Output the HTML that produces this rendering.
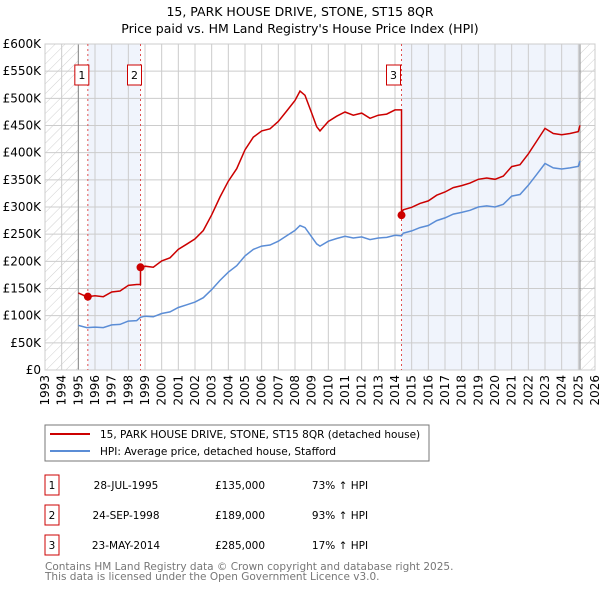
<!DOCTYPE html>
<html><head><meta charset="utf-8"><style>
body{margin:0;background:#fff;width:600px;height:590px;overflow:hidden;font-family:"DejaVu Sans","Liberation Sans",sans-serif}
svg text{font-family:"DejaVu Sans","Liberation Sans",sans-serif}
</style></head><body>
<svg id="c" width="600" height="590" xmlns="http://www.w3.org/2000/svg">
<defs><pattern id="hatch" width="7" height="7" patternUnits="userSpaceOnUse" patternTransform="rotate(45)"><line x1="0" y1="0" x2="0" y2="7" stroke="#d0d0d0" stroke-width="1"/></pattern></defs>
<text x="300" y="16" text-anchor="middle" font-size="12.5">15, PARK HOUSE DRIVE, STONE, ST15 8QR</text>
<text x="300" y="33" text-anchor="middle" font-size="12.5">Price paid vs. HM Land Registry's House Price Index (HPI)</text>
<g id="plot"></g>
<rect x="45" y="425" width="384" height="36" fill="#fff" stroke="#777"/>
<line x1="50" y1="434" x2="90" y2="434" stroke="#cc0000" stroke-width="2"/>
<text x="100" y="438" font-size="10.5">15, PARK HOUSE DRIVE, STONE, ST15 8QR (detached house)</text>
<line x1="50" y1="451" x2="90" y2="451" stroke="#5b8dd6" stroke-width="2"/>
<text x="100" y="455" font-size="10.5">HPI: Average price, detached house, Stafford</text>
<g id="table" font-size="10.5"></g>
<text x="45" y="570" font-size="10.5" fill="#777">Contains HM Land Registry data © Crown copyright and database right 2025.</text>
<text x="45" y="580" font-size="10.5" fill="#777">This data is licensed under the Open Government Licence v3.0.</text>
</svg>
<script>
const hpiYears=[1995.0,1995.5,1996,1996.5,1997,1997.5,1998,1998.5,1998.73,1999,1999.5,2000,2000.5,2001,2001.5,2002,2002.5,2003,2003.5,2004,2004.5,2005,2005.5,2006,2006.5,2007,2007.5,2008,2008.3,2008.6,2009,2009.3,2009.5,2010,2010.5,2011,2011.5,2012,2012.5,2013,2013.5,2014,2014.39,2014.5,2015,2015.5,2016,2016.5,2017,2017.5,2018,2018.5,2019,2019.5,2020,2020.5,2021,2021.5,2022,2022.5,2023,2023.5,2024,2024.5,2025,2025.1];
const hpiValues=[82,78,79,78,83,84,90,91,97,99,98,104,107,115,120,125,133,148,165,180,192,210,222,228,230,237,247,257,266,262,245,232,228,237,242,246,243,245,240,243,244,248,247,252,256,262,266,275,280,287,290,294,300,302,300,305,320,323,340,360,380,372,370,372,375,385];
const saleYears=[1995.57,1998.73,2014.39];
const salePrices=[135,189,285];
const saleRatios=[1.73,1.93,1.17];
const saleLabels=["1","2","3"];
const saleDates=["28-JUL-1995","24-SEP-1998","23-MAY-2014"];
const salePriceText=["£135,000","£189,000","£285,000"];
const saleHpiText=["73% ↑ HPI","93% ↑ HPI","17% ↑ HPI"];
const yTicks=[0,50,100,150,200,250,300,350,400,450,500,550,600];
const yTickLabels=["£0","£50K","£100K","£150K","£200K","£250K","£300K","£350K","£400K","£450K","£500K","£550K","£600K"];
const xTicks=[1993,1994,1995,1996,1997,1998,1999,2000,2001,2002,2003,2004,2005,2006,2007,2008,2009,2010,2011,2012,2013,2014,2015,2016,2017,2018,2019,2020,2021,2022,2023,2024,2025,2026];

const L=45,R=595,T=44,B=370,X0=1993,X1=2026,YMAX=600;
const xs=v=>L+(v-X0)/(X1-X0)*(R-L);
const ys=v=>B-v/YMAX*(B-T);
const NS="http://www.w3.org/2000/svg";
const plot=document.getElementById('plot');
function mk(tag,attrs,parent){const e=document.createElementNS(NS,tag);for(const k in attrs)e.setAttribute(k,attrs[k]);(parent||plot).appendChild(e);return e;}

let s=mk('rect',{x:xs(saleYears[0]),y:T,width:xs(saleYears[1])-xs(saleYears[0]),height:B-T,fill:'#f0f4fc'});


s=mk('rect',{x:xs(saleYears[2]),y:T,width:xs(2025.1)-xs(saleYears[2]),height:B-T,fill:'#f0f4fc'});


s=mk('rect',{x:xs(1993),y:T,width:xs(1995)-xs(1993),height:B-T,fill:'url(#hatch)'});


s=mk('rect',{x:xs(2025.1),y:T,width:xs(2026)-xs(2025.1),height:B-T,fill:'url(#hatch)'});



yTicks.forEach((v,i)=>{
  const g=mk('line',{x1:L,x2:R,y1:ys(v),y2:ys(v),stroke:'#ccc','stroke-width':1});
  
  
  const t=mk('text',{x:L-4,y:ys(v)+4,'text-anchor':'end','font-size':12});
  t.textContent=yTickLabels[i];
  
  
});
xTicks.forEach(v=>{
  const g=mk('line',{x1:xs(v),x2:xs(v),y1:T,y2:B,stroke:'#ccc','stroke-width':1});
  
  
  const t=mk('text',{x:0,y:0,'text-anchor':'end','font-size':12,transform:`translate(${xs(v)+4},${B+5}) rotate(-90)`});
  t.textContent=v;
  
  
});
s=mk('line',{x1:xs(1995),x2:xs(1995),y1:T,y2:B,stroke:'#888'});


s=mk('line',{x1:xs(2025.1),x2:xs(2025.1),y1:T,y2:B,stroke:'#888'});


s=mk('rect',{x:L,y:T,width:R-L,height:B-T,fill:'none',stroke:'#ccc'});



saleYears.forEach((y,i)=>{
  const l=mk('line',{x1:xs(y),x2:xs(y),y1:T,y2:B,stroke:'#e05050','stroke-dasharray':'2,3','stroke-width':1});
  
  
  const r=mk('rect',{x:xs(y)-(i===2?10:8)-5,y:65,width:14,height:20,fill:'#fff',stroke:'#cc0000'});
  
  
  const t=mk('text',{x:xs(y)-(i===2?10:8)+2,y:79,'text-anchor':'middle','font-size':11});
  t.textContent=saleLabels[i];
  
  
});

let d='';
hpiYears.forEach((y,i)=>{d+=(i?'L':'M')+xs(y).toFixed(1)+','+ys(hpiValues[i]).toFixed(1);});
s=mk('path',{d,fill:'none',stroke:'#5b8dd6','stroke-width':1.5});



function ratioAt(y){let r=saleRatios[0];for(let i=0;i<saleYears.length;i++){if(y>=saleYears[i])r=saleRatios[i];}return r;}
d='';let first=true;
hpiYears.forEach((y,i)=>{
  for(let k=0;k<saleYears.length;k++){
    if(i>0&&hpiYears[i-1]<saleYears[k]&&y>=saleYears[k]){
      const ps=ys(hpiValues[i-1]*ratioAt(hpiYears[i-1]));
      d+='L'+xs(saleYears[k]).toFixed(1)+','+ps.toFixed(1)+'L'+xs(saleYears[k]).toFixed(1)+','+ys(salePrices[k]).toFixed(1);
    }
  }
  d+=(first?'M':'L')+xs(y).toFixed(1)+','+ys(hpiValues[i]*ratioAt(y)).toFixed(1);first=false;
});
s=mk('path',{d,fill:'none',stroke:'#cc0000','stroke-width':1.5});


saleYears.forEach((y,i)=>{
  const c=mk('circle',{cx:xs(y),cy:ys(salePrices[i]),r:4,fill:'#cc0000'});
  
  
});

const tb=document.getElementById('table');
saleLabels.forEach((lab,i)=>{
  const yy=475+i*30;
  const r=mk('rect',{x:45,y:yy,width:14,height:20,fill:'#fff',stroke:'#cc0000'},tb);
  
  
  const cells=[[52,lab],[126,saleDates[i]],[240,salePriceText[i]],[340,saleHpiText[i]]];
  cells.forEach(c=>{
    const t=mk('text',{x:c[0],y:yy+14,'text-anchor':'middle'},tb);
    t.textContent=c[1];
    
    
  });
});
</script>
</body></html>
